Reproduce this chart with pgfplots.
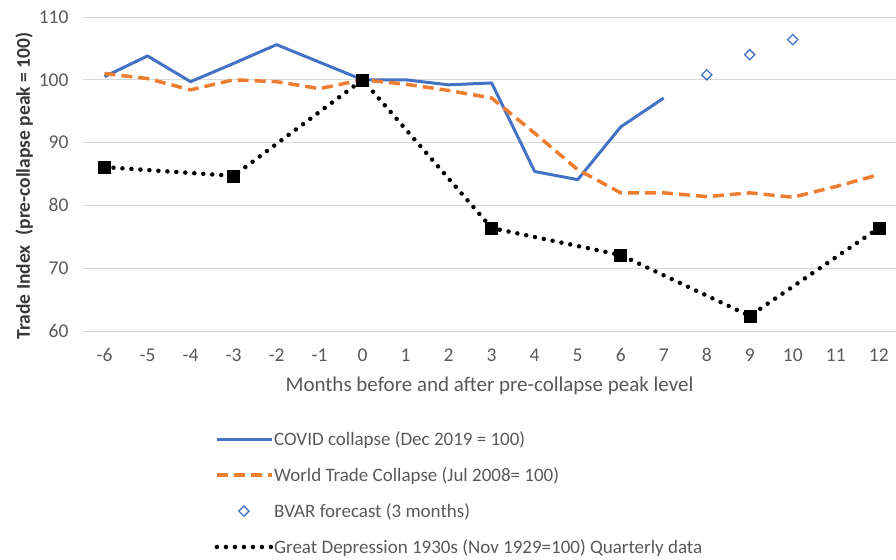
\documentclass[border=0pt]{standalone}
\usepackage{pgfplots}
\pgfplotsset{compat=1.18}
\usepackage{fontspec}
\setmainfont{Carlito}
\definecolor{xblue}{HTML}{4472C4}
\definecolor{xorange}{HTML}{ED7D31}
\definecolor{txt}{HTML}{595959}
\definecolor{grd}{HTML}{D9D9D9}
\pgfplotsset{
  lineleg/.style={legend image code/.code={\draw[##1] (0pt,0pt) -- (55pt,0pt);}},
  markleg/.style={legend image code/.code={\draw[##1] plot coordinates {(27pt,0pt)};}},
}
\begin{document}
\begin{tikzpicture}
\useasboundingbox (-83pt,-228pt) rectangle (813pt,331pt);
\begin{axis}[
  at={(0,0)}, anchor=south west,
  scale only axis, width=813pt, height=314pt,
  xmin=-6.5, xmax=12.4, ymin=60, ymax=110,
  xtick={-6,-5,...,12}, ytick={60,70,...,110},
  ymajorgrids, grid style={grd, line width=1pt},
  axis line style={draw=none}, tick style={draw=none},
  clip=false,
  /pgf/number format/assume math mode=true,
  ticklabel style={font=\fontsize{19.5}{23}\selectfont, text=txt},
  xticklabel style={yshift=-14pt},
  yticklabel style={xshift=-11pt},
  xlabel={Months before and after pre-collapse peak level},
  xlabel style={font=\fontsize{21}{25}\selectfont, text=txt, yshift=-8pt},
  ylabel={\bfseries Trade Index\enspace(pre-collapse peak = 100)},
  ylabel style={font=\fontsize{19.5}{23}\selectfont, text=black!78, yshift=-1pt, xshift=-12pt},
  legend style={at={(axis description cs:0.158,-0.307)}, anchor=north west, draw=none,
    font=\fontsize{19}{23}\selectfont, text=txt, row sep=16.5pt, fill=none,
    /tikz/every odd column/.style={column sep=-2pt}},
  legend cell align=left,
]
\addplot[xblue, line width=3pt, line join=round, lineleg]
  coordinates {(-6,100.5) (-5,103.8) (-4,99.7) (-3,102.6) (-2,105.6) (-1,102.8) (0,100) (1,100) (2,99.2) (3,99.5) (4,85.4) (5,84.1) (6,92.5) (7,97.1)};
\addlegendentry{COVID collapse (Dec 2019 = 100)}
\addplot[xorange, line width=3.5pt, dash pattern=on 11pt off 6pt, lineleg]
  coordinates {(-6,101) (-5,100.2) (-4,98.4) (-3,100) (-2,99.7) (-1,98.6) (0,100) (1,99.3) (2,98.3) (3,97.1) (4,91.5) (5,85.7) (6,82) (7,82) (8,81.4) (9,82) (10,81.3) (11,83) (12,84.9)};
\addlegendentry{World Trade Collapse (Jul 2008= 100)}
\addplot[only marks, mark=square, mark size=3.6pt, mark options={draw=xblue, fill=white, line width=1.3pt, rotate=45}, markleg]
  coordinates {(8,100.8) (9,104.0) (10,106.4)};
\addlegendentry{BVAR forecast (3 months)}
\addplot[black, line width=4.5pt, dash pattern=on 0pt off 9pt, line cap=round,
  mark=square*, mark size=6pt, mark options={solid, line cap=butt, line width=0.5pt, fill=black}, lineleg]
  coordinates {(-6,86.1) (-3,84.7) (0,100) (3,76.4) (6,72.1) (9,62.4) (12,76.4)};
\addlegendentry{Great Depression 1930s (Nov 1929=100) Quarterly data}
\end{axis}
\end{tikzpicture}
\end{document}
